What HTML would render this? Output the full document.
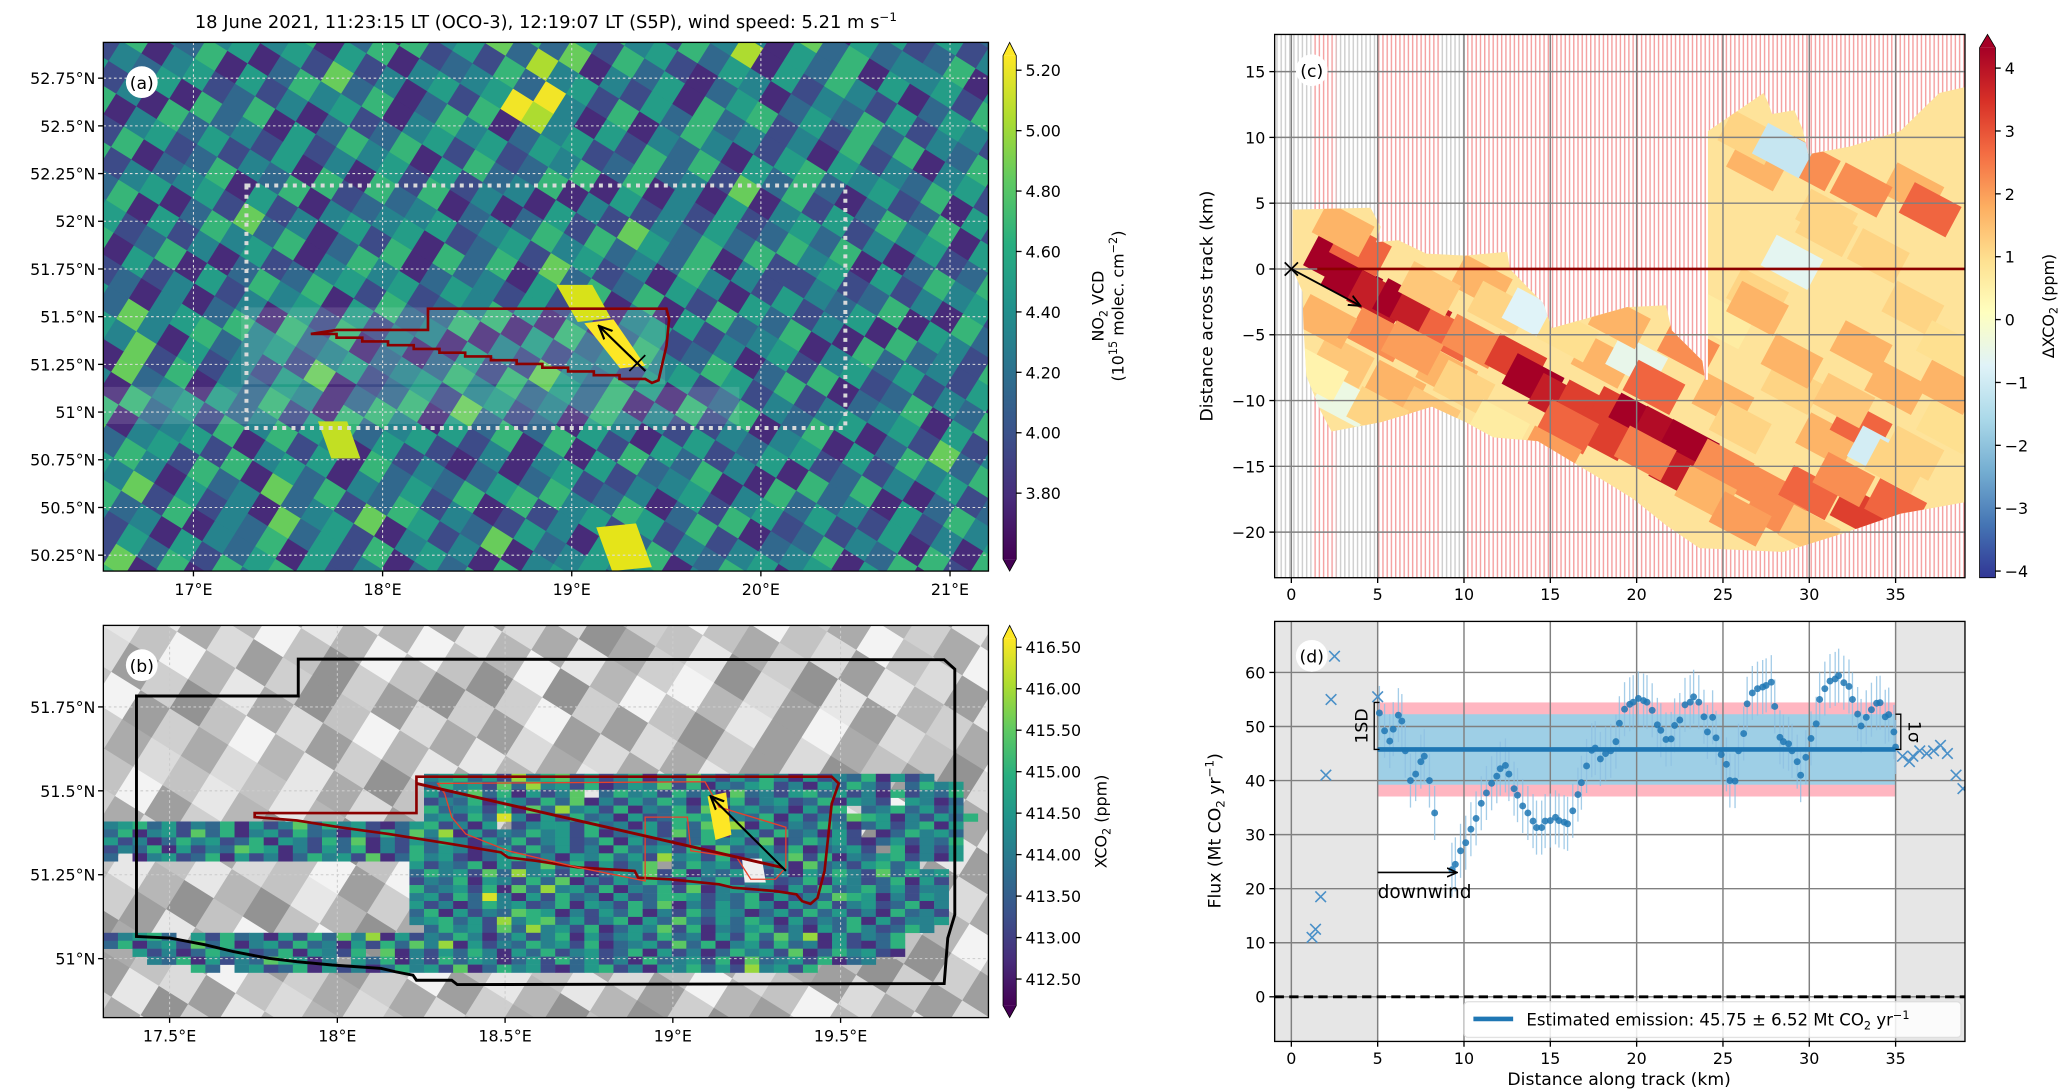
<!DOCTYPE html>
<html><head><meta charset="utf-8">
<style>
html,body{margin:0;padding:0;background:#fff;overflow:hidden;width:2067px;height:1091px;}
svg{display:block;font-family:"DejaVu Sans","Liberation Sans",sans-serif;}
text{fill:#000;}
</style></head>
<body>
<svg id="fig" xmlns="http://www.w3.org/2000/svg" width="2067" height="1091" viewBox="0 0 1560 823.4" preserveAspectRatio="none">
<defs>
<clipPath id="clipA"><rect x="78" y="32" width="668" height="399"/></clipPath>
<clipPath id="clipB"><rect x="78" y="472" width="668" height="296"/></clipPath>
<clipPath id="clipC"><rect x="962" y="26" width="521" height="410"/></clipPath>
<clipPath id="clipD"><rect x="962" y="469" width="521" height="317"/></clipPath>
<pattern id="pinkStripe" width="3.2" height="10" patternUnits="userSpaceOnUse"><rect width="3.2" height="10" fill="#fff"/><rect width="1.1" height="10" fill="#f5a3a3"/></pattern>
<pattern id="grayStripe" width="3.2" height="10" patternUnits="userSpaceOnUse"><rect width="3.2" height="10" fill="#fff"/><rect width="1.1" height="10" fill="#cfcfcf"/></pattern>
<linearGradient id="gradViridis" x1="0" y1="1" x2="0" y2="0">
<stop offset="0" stop-color="#440154"/><stop offset=".125" stop-color="#472d7b"/><stop offset=".25" stop-color="#3b528b"/><stop offset=".375" stop-color="#2c728e"/><stop offset=".5" stop-color="#21918c"/><stop offset=".625" stop-color="#28ae80"/><stop offset=".75" stop-color="#5ec962"/><stop offset=".875" stop-color="#addc30"/><stop offset="1" stop-color="#fde725"/>
</linearGradient>
<linearGradient id="gradRdYlBu" x1="0" y1="1" x2="0" y2="0">
<stop offset="0" stop-color="#313695"/><stop offset=".1" stop-color="#4575b4"/><stop offset=".2" stop-color="#74add1"/><stop offset=".3" stop-color="#abd9e9"/><stop offset=".4" stop-color="#e0f3f8"/><stop offset=".5" stop-color="#ffffbf"/><stop offset=".6" stop-color="#fee090"/><stop offset=".7" stop-color="#fdae61"/><stop offset=".8" stop-color="#f46d43"/><stop offset=".9" stop-color="#d73027"/><stop offset="1" stop-color="#a50026"/>
</linearGradient>
<marker id="arrowHead" viewBox="0 0 10 10" refX="9" refY="5" markerWidth="7" markerHeight="7" orient="auto"><path d="M0,1 L9,5 L0,9" fill="none" stroke="#000" stroke-width="1.5"/></marker>
</defs>
<g id="root"></g>
</svg>
<script>
// ---------- DATA ----------
// Panel (a): NO2 VCD grid (digit d -> 3.6 + 0.18*d, 1e15 molec cm-2)
const no2Rows = [
"345243652314563425416352436125","452361425374152436254163524371","236452163547261534625143652416",
"524136452617345261453627145362","361524735241634526173452613452","452613452836145263417352461534",
"135426314527364152436152473615","524361452613547261435624153642","361452736145263415263748152436",
"243615243765142536142635413526","452361524136452713645213562415","136452361524173645263516342563",
"524136452361542637142536415362","361524163452617384526143627145","452361542613452639415263415236",
"243516342516234598452361425362","524163524361452613546152436142","361452361524136452361427536415",
"452613452736145263415263415263","136245136452361524136452361524","524361524136452613452736145236",
"361452361524163452361524136452","243516342516234516342516342516","524163524361452613546152436142",
"361452361524136452361427536415","452613452736145263415263415263","136245136452361524136452361524",
"524361524136452613452736145236","361452361524163452361524136452","452361524136452713645213562415"];
const no2Ticks = [3.8,4.0,4.2,4.4,4.6,4.8,5.0,5.2];
const latTicksA = [50.25,50.5,50.75,51,51.25,51.5,51.75,52,52.25,52.5,52.75];
const lonTicksA = [17,18,19,20,21];
// Panel (b): background gray grid and XCO2 band grid (digit -> 412.3 + 0.45*d ppm)
const grayRows = [
"572846395746283957462839","846395728461357284639572","395728463957281639572846","728463957284639572846395",
"463951284639572846395728","957284639572846391728463","284639572846395728463957","639572846395726463957284",
"517392846153728495361827","273849561827394658172935","948271635948271369482716","162738495162738495162738",
"738495162738491627384951","495162738495169273849516","851627384951627384951627","327384951627384951627384",
"594837261594837269594837","268594837261594837261594","837261594837261594837261","415926375841592637584159",
"692637584159263758415926","374159263758415926375841","159263758415926375841592","926375841592637584159263"];
const xco2Rows = [
"......................45635284673524615374253641524361524",
"......................36452738452613547261435624153642.3645",
"......................52473615247.3645263517342563524162436",
"......................24361542637142536415362452361542.5413",
"......................63452617384526143627145341526.3463524",
"......................45263941526341523665243615243765142536",
"456352436152473645213562415.2455263415263748152436413524615",
"3614527361452634152637481524364526134527361452634152.136453",
"52413645236154263714253641536245236152413645271364521352436",
"24361524376514253614263541352635241634526173452613452.61425",
"3.145236152413645271364521356241546352845261354726143562415",
".....................52436152473615247.36452635173425635",
".....................3645273845261354726143562415364273645",
".....................2436154263714253641536245236154236152",
".....................6345261738452614362714534152634635244",
".....................4526394152634152366524361524376514254",
".....................5241364523615426371425364153624523614",
".....................3615243765142536142635413526352416342",
".....................4563528467352461537425364152436152445",
"......................36452738452613547261435624153642364",
"24563.5263415263748152436413524615245263415263748152436",
"3614527361452634152637481524364526134527361452634152136",
"..5241364523615426.714253641536245236152413645271364521",
"...4361524376514.536142635413526352416345261734526134",
"......63.4523615241364527136452135624154635284526"];
const xco2Ticks = [412.5,413,413.5,414,414.5,415,415.5,416,416.5];
const latTicksB = [51,51.25,51.5,51.75];
const lonTicksB = [17.5,18,18.5,19,19.5];
// Panel (c): delta XCO2 patches (km along, km across, ppm)
const cellX = [2.5,3.5,5,6.5,7.5,4,3,9,10.5,13,14,15.5,17,19,20,21.5,23,22.5,18,16,20.5,25,27,30,33,35,28,31,33,35,36,37,33,30,27,26.5,28.5,34,11,8,12,5,3,3,6,9,18,20,14,31,34,29,25,27,36,33,29,25,38,2,7,10,16,21,24,26,30,32,36,38,23,19,15,12,8,5,1.5,26,29,32,35,38,27,31];
const cellY = [0.5,-1,-2.2,-2.8,-3.5,1.5,3,-5,-5.5,-7,-8.5,-10,-10.5,-11,-11.5,-12.5,-13.5,-15.5,-12.5,-12,-14,-15,-16.5,-17,-18.5,-18,-18.5,-13,-12,-9,6,4.5,6,8,8,10,9,-14,-1,-1.5,-3,-5,-7,-10,-9,-8,-7,-7,-3.5,3,1,0.5,-4,-2,-3,-6,-9,-10,-9,-4,-6,-9,-5,-9,-17,-19,-20,-16,-14,-12,-6,-4,-14,-12,-11,-11,-8,-12,-7,-10,-15,-6,-3,4,-1];
const cellV = [4.5,4,3.5,4,3.5,2.5,1.5,2.5,2,3,4,3.5,3,3,4.2,3.8,4.2,3.5,3,2.5,2.2,2,2,2.5,3,2.5,2,1.5,2.5,1.5,1.5,2.5,2,2,1.5,1,-1.2,-1,1.5,1.2,1,2,1.2,-0.5,1.5,1.5,1.5,-0.6,-0.8,1,1,-0.7,0.5,1,1,1.5,1,1.5,1.5,1.5,1.8,1,0.8,2.5,1.5,1.8,1.2,2,1,0.8,2,1.5,1.8,0.5,1.2,1,0.3,1,1.5,1.2,1,0.8,1.5,1];
const dxco2Ticks = [-4,-3,-2,-1,0,1,2,3,4];
const kmTicks = [0,5,10,15,20,25,30,35];
const acrossTicks = [-20,-15,-10,-5,0,5,10,15];
// Panel (d): flux along track
const fluxX = [5.1,5.4,5.7,5.9,6.2,6.4,6.6,6.9,7.2,7.5,7.7,8.0,8.3,9.3,9.5,9.8,10.1,10.4,10.7,11.0,11.3,11.6,11.9,12.1,12.4,12.6,12.9,13.1,13.4,13.7,14.0,14.2,14.5,14.7,15.0,15.3,15.5,15.8,16.0,16.3,16.6,16.8,17.1,17.4,17.6,17.9,18.2,18.5,18.8,19.0,19.3,19.6,19.8,20.1,20.4,20.6,20.9,21.2,21.4,21.7,22.0,22.2,22.5,22.8,23.1,23.3,23.6,23.9,24.1,24.4,24.6,24.9,25.2,25.4,25.7,25.9,26.2,26.4,26.7,27.0,27.3,27.5,27.8,28.0,28.3,28.5,28.8,29.0,29.3,29.5,29.8,30.1,30.4,30.6,30.9,31.2,31.5,31.7,32.0,32.3,32.5,32.8,33.0,33.3,33.6,33.9,34.1,34.4,34.6,34.9,35.0];
const fluxV = [52.5,49.2,47.3,49.5,52.1,51,45.5,40,41.2,43.5,44.5,40,34,23.5,24.5,27,28.5,31,33,35.8,37.7,39.5,40.8,42.2,42.8,41.2,38.5,37.3,35.3,34,32.5,31.3,31.3,32.5,32.6,33.2,32.6,32.3,32,34.4,37.4,39.6,42.7,45.6,46,44,45,45.5,47.2,50.6,53.2,54.1,54.5,55.2,54.8,54.5,53,50.3,49.3,47.6,47.7,50.2,51.2,54,54.5,55.5,54.5,51.8,49,51.7,47.9,44.8,43,40,39.9,45.5,48.7,54.2,56.2,57,57.3,57.6,58.2,53.7,48,47.2,46.8,45.5,43.5,41,44.3,47.8,50.5,55,57,58.4,58.8,59.4,58.1,57.4,55,52.3,50.1,51.7,53.1,54.3,54.4,51.8,52.2,49,46.2];
const fluxErr = 5;
const crossX = [1.2,1.4,1.7,2.0,2.3,2.5,5.0,35.4,35.8,36.0,36.4,36.8,37.2,37.6,38.0,38.5,38.9];
const crossV = [11,12.5,18.5,41,55,63,55.5,44.5,43.5,44.5,45.5,45,45.5,46.5,45,41,38.5];
const emission = 45.75, emissionSigma = 6.52, emissionSD = 8.7;
const fluxTicks = [0,10,20,30,40,50,60];

// ---------- HELPERS ----------
const NS="http://www.w3.org/2000/svg";
const root=document.getElementById('root');
function mk(tag,attrs,parent){const e=document.createElementNS(NS,tag);for(const k in attrs)e.setAttribute(k,attrs[k]);(parent||root).appendChild(e);return e;}
function txt(s,x,y,size,anchor,parent,extra){const t=mk('text',Object.assign({x:x,y:y,'font-size':size,'text-anchor':anchor||'start'},extra||{}),parent);t.textContent=s;return t;}
function hex2rgb(h){return[parseInt(h.substr(1,2),16),parseInt(h.substr(3,2),16),parseInt(h.substr(5,2),16)];}
function ramp(stops,t){t=Math.max(0,Math.min(1,t));const n=stops.length-1;const i=Math.min(n-1,Math.floor(t*n));const f=t*n-i;const a=hex2rgb(stops[i]),b=hex2rgb(stops[i+1]);return 'rgb('+a.map((v,k)=>Math.round(v+(b[k]-v)*f)).join(',')+')';}
const VIR=["#440154","#472d7b","#3b528b","#2c728e","#21918c","#28ae80","#5ec962","#addc30","#fde725"];
const RDY=["#313695","#4575b4","#74add1","#abd9e9","#e0f3f8","#ffffbf","#fee090","#fdae61","#f46d43","#d73027","#a50026"];

// ---------- PANEL A ----------
const xA=lon=>146+(lon-17)*142.75, yA=lat=>311-(lat-51)*144;
const cbA=v=>53+(5.2-v)*228;
const gA=mk('g',{'clip-path':'url(#clipA)'});


mk('rect',{x:78,y:32,width:668,height:399,fill:'#2c728e'},gA);
const gAr=mk('g',{transform:'rotate(32 412 231)'},gA);
const CA=18, NA=44;
for(let i=0;i<NA;i++){for(let j=0;j<NA;j++){const row=no2Rows[i%no2Rows.length];const v=3.6+0.18*(+row[(j+3*Math.floor(i/30))%row.length]);
 const r=mk('rect',{x:412-NA*CA/2+j*CA,y:231-NA*CA/2+i*CA,width:CA+0.6,height:CA+0.6,fill:ramp(VIR,(v-3.58)/(5.25-3.58))},gAr);
 
 }}
// hatched OCO-3 footprint overlay
mk('rect',{x:182,y:232,width:320,height:58,fill:'#fff',opacity:.12},gA);
mk('rect',{x:78,y:292,width:480,height:28,fill:'#fff',opacity:.12},gA);
// plume yellow
mk('polygon',{points:'441,244 463,241 487,276 468,278',fill:'#fde725'},gA);
mk('polygon',{points:'420,215 447,215 461,240 436,243',fill:'#d8e219'},gA);
mk('polygon',{points:'240,318 262,318 272,346 250,346',fill:'#c2df23'},gA);
mk('polygon',{points:'450,398 480,395 492,428 462,431',fill:'#e5e419'},gA);
lonTicksA.forEach(l=>mk('line',{x1:xA(l),x2:xA(l),y1:32,y2:431,stroke:'#ddd','stroke-dasharray':'2,2','stroke-width':.8},gA));
latTicksA.forEach(l=>mk('line',{x1:78,x2:746,y1:yA(l),y2:yA(l),stroke:'#ddd','stroke-dasharray':'2,2','stroke-width':.8},gA));
const dr=mk('rect',{x:186,y:140,width:452,height:183,fill:'none',stroke:'#d9d9d9','stroke-width':3,'stroke-dasharray':'3,4'},gA);


let stair=[];for(let k=0;k<=12;k++){const x=487-k*(233/12),y=286-k*(34/12);stair.push((x)+','+(y));stair.push((x-233/12)+','+y);}
const rpA=mk('polygon',{points:'254,249 323,249 323,233 503,233 505,241 503,261 497,287 492,289 '+stair.join(' '),fill:'none',stroke:'#8b0000','stroke-width':2},gA);


const arA=mk('line',{x1:487,y1:280,x2:452,y2:246,stroke:'#000','stroke-width':1.6,'marker-end':'url(#arrowHead)'},gA);


mk('path',{d:'M475,268 L487,280 M487,268 L475,280',stroke:'#000','stroke-width':1.3},gA);
mk('rect',{x:78,y:32,width:668,height:399,fill:'none',stroke:'#000','stroke-width':1});
mk('circle',{cx:107,cy:62,r:12,fill:'#fff'});
txt('(a)',107,67,13,'middle');
latTicksA.forEach(l=>{mk('line',{x1:74,x2:78,y1:yA(l),y2:yA(l),stroke:'#000'});const t=txt(l+'°N',72,yA(l)+4.5,12,'end');});
lonTicksA.forEach(l=>{mk('line',{x1:xA(l),x2:xA(l),y1:431,y2:435,stroke:'#000'});txt(l+'°E',xA(l),449,12,'middle');});
const ttl=txt('',412,21,13.5,'middle');


ttl.innerHTML='18 June 2021, 11:23:15 LT (OCO-3), 12:19:07 LT (S5P), wind speed: 5.21 m s<tspan dy="-5" font-size="9">−1</tspan>';
// colorbar A
const cbarA=mk('g',{});


mk('rect',{x:757,y:42,width:10,height:380,fill:'url(#gradViridis)'},cbarA);
mk('polygon',{points:'757,42 762,32 767,42',fill:'#fde725'},cbarA);
mk('polygon',{points:'757,422 762,431 767,422',fill:'#440154'},cbarA);
mk('path',{d:'M757,42 L762,32 L767,42 L767,422 L762,431 L757,422 Z',fill:'none',stroke:'#000','stroke-width':.6},cbarA);
no2Ticks.forEach(v=>{mk('line',{x1:767,x2:771,y1:cbA(v),y2:cbA(v),stroke:'#000'},cbarA);txt(v.toFixed(2),774,cbA(v)+4.5,12,'start',cbarA);});
const la=txt('',0,0,12,'middle',cbarA,{transform:'translate(833,231) rotate(-90)'});la.innerHTML='NO<tspan dy="3" font-size="8.5">2</tspan><tspan dy="-3"> VCD</tspan>';
const lb=txt('',0,0,12,'middle',cbarA,{transform:'translate(848,231) rotate(-90)'});lb.innerHTML='(10<tspan dy="-5" font-size="8.5">15</tspan><tspan dy="5"> molec. cm</tspan><tspan dy="-5" font-size="8.5">−2</tspan><tspan dy="5">)</tspan>';

// ---------- PANEL B ----------
const xB=lon=>128+(lon-17.5)*253.2, yB=lat=>723.5-(lat-51)*253.3;
const cbB=v=>488.5+(416.5-v)*62.6;
const ob=(ox,oy)=>(78+(ox-145)/1.883).toFixed(1)+','+(472+(oy-70)/3.94).toFixed(1);
const gB=mk('g',{'clip-path':'url(#clipB)'});


mk('rect',{x:78,y:472,width:668,height:296,fill:'#b0b0b0'},gB);
const gBr=mk('g',{transform:'rotate(32 412 620)'},gB);
const CB=26, NB=32;
for(let i=0;i<NB;i++){for(let j=0;j<NB;j++){const row=grayRows[i%grayRows.length];const g=Math.round(135+(+row[(j+5*Math.floor(i/24))%row.length])*12);
 const r=mk('rect',{x:412-NB*CB/2+j*CB,y:620-NB*CB/2+i*CB,width:CB+0.6,height:CB+0.6,fill:'rgb('+g+','+g+','+g+')'},gBr);
 
 }}
xco2Rows.forEach((row,i)=>{for(let j=0;j<row.length;j++){if(row[j]==='.')continue;const v=412.3+0.45*(+row[j]);
 const r=mk('rect',{x:78+j*11,y:584+i*6,width:11.2,height:6.2,fill:ramp(VIR,(v-412.18)/(416.6-412.18))},gB);
 
 }});
mk('polygon',{points:'534,601 548,598 552,630 540,634',fill:'#fde725'},gB);
mk('polygon',{points:'560,648 575,648 578,666 562,666',fill:'#f0f0f0'},gB);
lonTicksB.forEach(l=>mk('line',{x1:xB(l),x2:xB(l),y1:472,y2:768,stroke:'#ccc','stroke-dasharray':'2,2','stroke-width':.8},gB));
latTicksB.forEach(l=>mk('line',{x1:78,x2:746,y1:yB(l),y2:yB(l),stroke:'#ccc','stroke-dasharray':'2,2','stroke-width':.8},gB));
const bpoly=[[192,280],[422,280],[422,170],[1340,172],[1355,200],[1355,930],[1345,1000],[1340,1135],[648,1138],[640,1125],[590,1125],[585,1110],[560,1100],[540,1090],[470,1080],[420,1070],[380,1060],[330,1040],[290,1020],[240,1000],[192,995]];
const bo=mk('polygon',{points:bpoly.map(p=>ob(p[0],p[1])).join(' '),fill:'none',stroke:'#000','stroke-width':2.2},gB);


const rpoly=[[590,520],[1180,520],[1190,540],[1180,600],[1170,800],[1160,880],[1150,898],[1138,890],[1130,870],[1100,860],[1040,850],[1020,840],[950,825],[905,820],[900,800],[820,790],[760,770],[720,760],[710,745],[640,720],[580,700],[550,690],[480,670],[420,650],[360,640],[360,628],[590,628]];
const rb=mk('polygon',{points:rpoly.map(p=>ob(p[0],p[1])).join(' '),fill:'none',stroke:'#8b0000','stroke-width':2},gB);


const tpoly=[[620,540],[1000,535],[1020,610],[1115,670],[1115,790],[1100,825],[1065,825],[1045,760],[980,740],[975,640],[915,640],[915,830],[880,815],[820,790],[720,740],[660,690],[640,640],[630,570]];
mk('polygon',{points:tpoly.map(p=>ob(p[0],p[1])).join(' '),fill:'none',stroke:'#e8402a','stroke-width':1},gB);
mk('line',{x1:78+(590-145)/1.883,y1:472+(540-70)/3.94,x2:78+(1110-145)/1.883,y2:472+(790-70)/3.94,stroke:'#8b0000','stroke-width':2.2},gB);
const arB=mk('line',{x1:78+(1115-145)/1.883,y1:472+(800-70)/3.94,x2:78+(1008-145)/1.883,y2:472+(578-70)/3.94,stroke:'#000','stroke-width':1.6,'marker-end':'url(#arrowHead)'},gB);


mk('rect',{x:78,y:472,width:668,height:296,fill:'none',stroke:'#000','stroke-width':1});
mk('circle',{cx:107,cy:502,r:12,fill:'#fff'});
txt('(b)',107,507,13,'middle');
latTicksB.forEach(l=>{mk('line',{x1:74,x2:78,y1:yB(l),y2:yB(l),stroke:'#000'});txt(l+'°N',72,yB(l)+4.5,12,'end');});
lonTicksB.forEach(l=>{mk('line',{x1:xB(l),x2:xB(l),y1:768,y2:772,stroke:'#000'});txt(l+'°E',xB(l),786,12,'middle');});
const cbarB=mk('g',{});


mk('rect',{x:757,y:482,width:10,height:277,fill:'url(#gradViridis)'},cbarB);
mk('polygon',{points:'757,482 762,472 767,482',fill:'#fde725'},cbarB);
mk('polygon',{points:'757,759 762,768 767,759',fill:'#440154'},cbarB);
mk('path',{d:'M757,482 L762,472 L767,482 L767,759 L762,768 L757,759 Z',fill:'none',stroke:'#000','stroke-width':.6},cbarB);
xco2Ticks.forEach(v=>{mk('line',{x1:767,x2:771,y1:cbB(v),y2:cbB(v),stroke:'#000'},cbarB);txt(v.toFixed(2),774,cbB(v)+4.5,12,'start',cbarB);});
const lc=txt('',0,0,12,'middle',cbarB,{transform:'translate(835,620) rotate(-90)'});lc.innerHTML='XCO<tspan dy="3" font-size="8.5">2</tspan><tspan dy="-3"> (ppm)</tspan>';

// ---------- PANEL C ----------
const xK=km=>974.6+km*13.03;
const yC=v=>203-v*9.93;
const cbC=v=>51.4+(4-v)*47.45;
const oc=(ox,oy)=>(962+(ox-128)*0.4208).toFixed(1)+','+(26+(oy-87)*0.2887).toFixed(1);
const gC=mk('g',{'clip-path':'url(#clipC)'});


mk('rect',{x:962,y:26,width:521,height:410,fill:'url(#pinkStripe)'},gC);
[[-1,1.2],[2.6,4.9],[8.6,10.0]].forEach(r=>mk('rect',{x:xK(r[0]),y:26,width:xK(r[1])-xK(r[0]),height:410,fill:'url(#grayStripe)'},gC));
const swath=[[160,545],[300,540],[318,590],[310,630],[350,625],[400,660],[470,665],[545,655],[550,700],[610,790],[625,855],[760,800],[830,795],[840,860],[895,940],[900,990],[905,990],[905,340],[1005,240],[1013,265],[1020,295],[1060,285],[1075,335],[1085,400],[1160,380],[1250,340],[1320,240],[1366,225],[1366,1310],[1250,1340],[1150,1390],[1040,1440],[890,1430],[830,1370],[770,1300],[720,1255],[600,1150],[520,1140],[470,1100],[410,1060],[320,1100],[230,1125],[210,1070],[185,980],[180,860],[178,760],[160,700]];
const swPts=swath.map(p=>oc(p[0],p[1])).join(' ');
mk('clipPath',{id:'clipSwath'},gC);
mk('polygon',{points:swPts},document.getElementById('clipSwath'));
const sw=mk('polygon',{points:swPts,fill:'#fee39a'},gC);


const gCc=mk('g',{'clip-path':'url(#clipSwath)'},gC);
cellX.forEach((cx,i)=>{const x=xK(cx),y=yC(cellY[i]);
 const r=mk('rect',{x:x-20,y:y-13,width:40,height:26,fill:ramp(RDY,(cellV[i]+4)/8),transform:'rotate(28 '+x+' '+y+')'},gCc);
 
 });
kmTicks.forEach(k=>mk('line',{x1:xK(k),x2:xK(k),y1:26,y2:436,stroke:'#808080','stroke-width':1.1},gC));
acrossTicks.forEach(k=>mk('line',{x1:962,x2:1483,y1:yC(k),y2:yC(k),stroke:'#808080','stroke-width':1.1},gC));
mk('line',{x1:xK(1.5),x2:1483,y1:yC(0),y2:yC(0),stroke:'#8b0000','stroke-width':2},gC);
const arC=mk('line',{x1:xK(0),y1:yC(0),x2:xK(4),y2:yC(-2.8),stroke:'#000','stroke-width':1.4,'marker-end':'url(#arrowHead)'},gC);


mk('path',{d:`M${xK(0)-5},${yC(0)-5} L${xK(0)+5},${yC(0)+5} M${xK(0)+5},${yC(0)-5} L${xK(0)-5},${yC(0)+5}`,stroke:'#000','stroke-width':1.3},gC);
mk('rect',{x:962,y:26,width:521,height:410,fill:'none',stroke:'#000','stroke-width':1});
mk('circle',{cx:990,cy:53,r:12,fill:'#fff'});
txt('(c)',990,58,13,'middle');
kmTicks.forEach(k=>{mk('line',{x1:xK(k),x2:xK(k),y1:436,y2:440,stroke:'#000'});txt(String(k),xK(k),453,12,'middle');});
acrossTicks.forEach(k=>{mk('line',{x1:958,x2:962,y1:yC(k),y2:yC(k),stroke:'#000'});txt(k<0?'−'+(-k):String(k),955,yC(k)+4.5,12,'end');});
const ylC=txt('Distance across track (km)',0,0,13,'middle',root,{transform:'translate(915,231) rotate(-90)'});


const cbarC=mk('g',{});


mk('rect',{x:1494,y:36,width:12,height:400,fill:'url(#gradRdYlBu)'},cbarC);
mk('polygon',{points:'1494,36 1500,26 1506,36',fill:'#a50026'},cbarC);
mk('path',{d:'M1494,436 L1494,36 L1500,26 L1506,36 L1506,436 Z',fill:'none',stroke:'#000','stroke-width':.6},cbarC);
dxco2Ticks.forEach(v=>{mk('line',{x1:1506,x2:1510,y1:cbC(v),y2:cbC(v),stroke:'#000'},cbarC);txt(v<0?'−'+(-v):String(v),1513,cbC(v)+4.5,12,'start',cbarC);});
const ld=txt('',0,0,12,'middle',cbarC,{transform:'translate(1550,231) rotate(-90)'});ld.innerHTML='ΔXCO<tspan dy="3" font-size="8.5">2</tspan><tspan dy="-3"> (ppm)</tspan>';

// ---------- PANEL D ----------
const yD=v=>752.3-v*4.08;
const gD=mk('g',{'clip-path':'url(#clipD)'});


mk('rect',{x:962,y:469,width:xK(5)-962,height:317,fill:'#e6e6e6'},gD);
mk('rect',{x:xK(35),y:469,width:1483-xK(35),height:317,fill:'#e6e6e6'},gD);
const sdb=mk('rect',{x:xK(5),y:yD(emission+emissionSD),width:xK(35)-xK(5),height:yD(emission-emissionSD)-yD(emission+emissionSD),fill:'#ffb6c1'},gD);


const sgb=mk('rect',{x:xK(5),y:yD(emission+emissionSigma),width:xK(35)-xK(5),height:yD(emission-emissionSigma)-yD(emission+emissionSigma),fill:'#9ecfe6'},gD);


kmTicks.forEach(k=>mk('line',{x1:xK(k),x2:xK(k),y1:469,y2:786,stroke:'#808080','stroke-width':1.1},gD));
fluxTicks.forEach(k=>mk('line',{x1:962,x2:1483,y1:yD(k),y2:yD(k),stroke:'#808080','stroke-width':1.1},gD));
const zl=mk('line',{x1:962,x2:1483,y1:yD(0),y2:yD(0),stroke:'#000','stroke-width':2.2,'stroke-dasharray':'7,4'},gD);


fluxX.forEach((x,i)=>{const eb=mk('line',{x1:xK(x),x2:xK(x),y1:yD(fluxV[i]-fluxErr),y2:yD(fluxV[i]+fluxErr),stroke:'#8fc1e3','stroke-width':1,opacity:.8},gD);
 
 });
const eml=mk('line',{x1:xK(5),x2:xK(35),y1:yD(emission),y2:yD(emission),stroke:'#1f77b4','stroke-width':3.5},gD);


fluxX.forEach((x,i)=>{const c=mk('circle',{cx:xK(x),cy:yD(fluxV[i]),r:2.6,fill:'#1f77b4',opacity:.85},gD);
 
 });
crossX.forEach((x,i)=>{const X=xK(x),Y=yD(crossV[i]);const c=mk('path',{d:`M${X-4},${Y-4} L${X+4},${Y+4} M${X+4},${Y-4} L${X-4},${Y+4}`,stroke:'#4a90c8','stroke-width':1.2},gD);
 
 });
// brackets
const bx=xK(4.8),by1=yD(emission+emissionSD),by2=yD(emission);
mk('path',{d:`M${bx+4},${by1} L${bx},${by1} L${bx},${by2} L${bx+4},${by2}`,fill:'none',stroke:'#000','stroke-width':1},gD);
txt('1SD',0,0,13,'middle',gD,{transform:`translate(${bx-5},${(by1+by2)/2}) rotate(-90)`});
const sx=xK(35.3),sy1=yD(emission+emissionSigma);
mk('path',{d:`M${sx-4},${sy1} L${sx},${sy1} L${sx},${by2} L${sx-4},${by2}`,fill:'none',stroke:'#000','stroke-width':1},gD);
txt('1σ',0,0,13,'middle',gD,{transform:`translate(${sx+6},${(sy1+by2)/2}) rotate(90)`});
const dwa=mk('line',{x1:xK(5),y1:yD(23),x2:xK(9.6),y2:yD(23),stroke:'#000','stroke-width':1.2,'marker-end':'url(#arrowHead)'},gD);


txt('downwind',xK(5),yD(18.3),14,'start',gD);
// legend
const leg=mk('g',{});


mk('rect',{x:1105,y:756,width:375,height:27,fill:'#fff',opacity:.85,stroke:'#ddd',rx:3},leg);
mk('line',{x1:1112,x2:1142,y1:769,y2:769,stroke:'#1f77b4','stroke-width':3.5},leg);
const lt=txt('',1152,774,12.5,'start',leg);lt.innerHTML='Estimated emission: 45.75 ± 6.52 Mt CO<tspan dy="3" font-size="8.5">2</tspan><tspan dy="-3"> yr</tspan><tspan dy="-5" font-size="8.5">−1</tspan>';
mk('rect',{x:962,y:469,width:521,height:317,fill:'none',stroke:'#000','stroke-width':1});
mk('circle',{cx:990,cy:495,r:12,fill:'#fff'});
txt('(d)',990,500,13,'middle');
kmTicks.forEach(k=>{mk('line',{x1:xK(k),x2:xK(k),y1:786,y2:790,stroke:'#000'});txt(String(k),xK(k),803,12,'middle');});
fluxTicks.forEach(k=>{mk('line',{x1:958,x2:962,y1:yD(k),y2:yD(k),stroke:'#000'});txt(String(k),955,yD(k)+4.5,12,'end');});
const xlD=txt('Distance along track (km)',1222,819,13,'middle');


const ylD=txt('',0,0,13,'middle',root,{transform:'translate(921,627) rotate(-90)'});
ylD.innerHTML='Flux (Mt CO<tspan dy="3" font-size="9">2</tspan><tspan dy="-3"> yr</tspan><tspan dy="-5" font-size="9">−1</tspan><tspan dy="5">)</tspan>';


</script>
</body></html>
